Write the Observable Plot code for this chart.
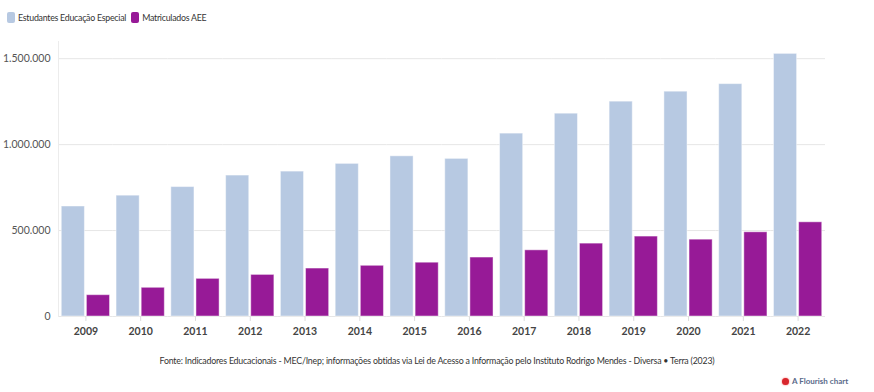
<!DOCTYPE html>
<html>
<head>
<meta charset="utf-8">
<script src="https://cdn.jsdelivr.net/npm/d3@7"></script>
<script src="https://cdn.jsdelivr.net/npm/@observablehq/plot@0.6"></script>
<style>
  html, body { margin: 0; padding: 0; background: #fff; }
  body { width: 874px; height: 392px; position: relative; font-family: Lato, "Open Sans", sans-serif; overflow: hidden; }
  .legend { position: absolute; left: 7px; top: 12px; display: flex; align-items: center; font-size: 8.8px; letter-spacing: -0.25px; color: #333; }
  .legend .item { display: flex; align-items: center; margin-right: 5px; }
  .legend .sw { width: 8px; height: 11px; border-radius: 2px; margin-right: 3px; }
  #chart { position: absolute; left: 0; top: 30px; }
  .caption { position: absolute; left: 0; width: 874px; top: 355px; text-align: center; font-size: 8.8px; letter-spacing: -0.2px; color: #333; }
  .brand { position: absolute; left: 782px; top: 376px; font-size: 8px; color: #5a6a8a; display: flex; align-items: center; font-weight: bold; }
  .brand .dot { width: 7px; height: 7px; border-radius: 50%; background: #d8262d; margin-right: 3px; box-shadow: 0 0 2px #f66; }
</style>
</head>
<body>
<div class="legend" id="legend"></div>
<div id="chart"></div>
<div class="caption">Fonte: Indicadores Educacionais - MEC/Inep; informações obtidas via Lei de Acesso a Informação pelo Instituto Rodrigo Mendes - Diversa • Terra (2023)</div>
<div class="brand"><span class="dot"></span>A Flourish chart</div>
<script>
const years = [2009, 2010, 2011, 2012, 2013, 2014, 2015, 2016, 2017, 2018, 2019, 2020, 2021, 2022];
const series = ["Estudantes Educação Especial", "Matriculados AEE"];
const estudantes = [640000, 703000, 753000, 820000, 843000, 888000, 932000, 917000, 1064000, 1180000, 1250000, 1308000, 1352000, 1528000];
const matriculados = [124000, 167000, 219000, 242000, 279000, 295000, 313000, 343000, 385000, 424000, 465000, 447000, 490000, 548000];
const colors = ["#b7c9e2", "#971a97"];
const yTicks = [0, 500000, 1000000, 1500000];

const data = [];
years.forEach((y, i) => {
  data.push({year: y, series: series[0], value: estudantes[i]});
  data.push({year: y, series: series[1], value: matriculados[i]});
});

// legend
const leg = document.getElementById("legend");
series.forEach((s, i) => {
  const it = document.createElement("div");
  it.className = "item";
  it.innerHTML = `<span class="sw" style="background:${colors[i]}"></span><span>${s}</span>`;
  leg.appendChild(it);
});

const fmt = d3.formatLocale({decimal: ",", thousands: ".", grouping: [3], currency: ["", ""]}).format(",d");

const plot = Plot.plot({
  width: 874,
  height: 316,
  marginLeft: 58,
  marginRight: 49,
  marginTop: 11,
  marginBottom: 30,
  style: {fontFamily: "Lato, 'Open Sans', sans-serif", background: "transparent"},
  fx: {domain: years, padding: 0, round: false},
  x: {domain: series, axis: null, paddingInner: 0.08, paddingOuter: 0.13, round: false},
  y: {domain: [0, 1600000]},
  color: {domain: series, range: colors},
  marks: [
    Plot.gridY(yTicks, {stroke: "#e6e6e6", strokeOpacity: 1, strokeWidth: 1}),
    Plot.frame({anchor: "left", stroke: "#ececec", fx: () => years[0]}),
    Plot.axisY(yTicks, {tickSize: 0, tickPadding: 8, tickFormat: fmt, fontSize: 10.5, fill: "#555", label: null}),
    Plot.axisFx({anchor: "bottom", tickSize: 5, tickPadding: 6, stroke: "#dcdcdc", fill: "#444", fontSize: 10.5, fontWeight: "bold", label: null, tickFormat: d => String(d)}),
    Plot.barY(data, {fx: "year", x: "series", y: "value", fill: "series", stroke: "white", strokeOpacity: 0.45, strokeWidth: 1})
  ]
});
document.getElementById("chart").appendChild(plot);
</script>
</body>
</html>
